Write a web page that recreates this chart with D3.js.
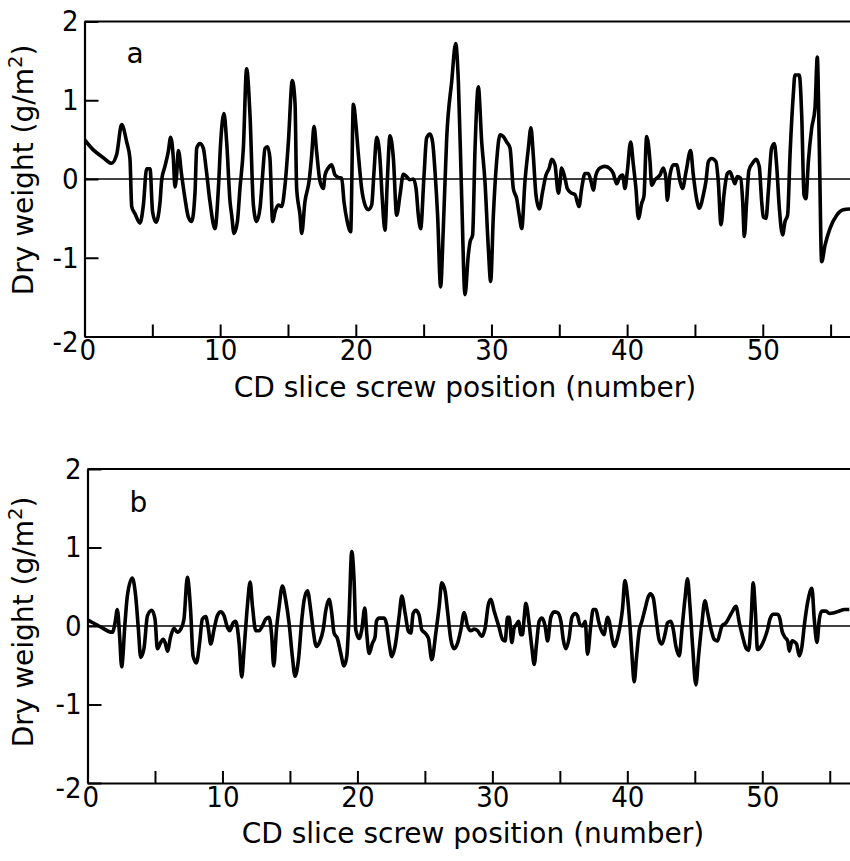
<!DOCTYPE html>
<html>
<head>
<meta charset="utf-8">
<script src="https://cdn.jsdelivr.net/npm/d3@7"></script>
<style>
  body { margin: 0; background: #fff; }
  text { font-family: "DejaVu Sans", sans-serif; fill: #000; }
  .tick text { font-family: "DejaVu Sans Condensed", "DejaVu Sans", sans-serif; font-stretch: condensed; }
</style>
</head>
<body>
<div id="chart"></div>
<script>
(function()
{
    // panel a: CD profile before control
    const positionsA = [0, 0.65, 1.39, 2.00, 2.37, 2.74, 3.11, 3.35, 3.48, 3.72, 4.09, 4.34, 4.58, 4.83, 5.02, 5.27, 5.57, 5.69, 5.93, 6.18,
        6.35, 6.55, 6.67, 6.79, 6.92, 7.16, 7.41, 7.65, 7.90, 8.15, 8.27, 8.51, 8.76, 8.96, 9.25, 9.62, 9.87, 10.04, 10.28, 10.48,
        10.73, 10.85, 11.02, 11.27, 11.46, 11.71, 11.95, 12.20, 12.45, 12.69, 12.94, 13.13, 13.31, 13.50, 13.67, 13.87, 14.04, 14.29, 14.53, 14.78,
        15.03, 15.32, 15.52, 15.64, 15.89, 16.01, 16.25, 16.57, 16.75, 16.92, 17.11, 17.36, 17.61, 17.73, 17.97, 18.22, 18.47, 18.71, 18.96, 19.13,
        19.37, 19.62, 19.82, 20.01, 20.19, 20.43, 20.68, 20.92, 21.17, 21.34, 21.54, 21.78, 21.95, 22.15, 22.32, 22.52, 22.77, 23.01, 23.26, 23.50,
        23.75, 23.99, 24.24, 24.44, 24.61, 24.78, 25.03, 25.22, 25.47, 25.66, 25.84, 26.03, 26.25, 26.45, 26.70, 27.07, 27.36, 27.56, 27.80, 28.05,
        28.29, 28.42, 28.61, 28.79, 29.03, 29.28, 29.52, 29.77, 29.94, 30.14, 30.38, 30.63, 30.87, 31.12, 31.37, 31.61, 31.86, 32.05, 32.23, 32.47,
        32.72, 32.91, 33.08, 33.28, 33.53, 33.77, 34.02, 34.26, 34.44, 34.68, 34.93, 35.05, 35.17, 35.42, 35.59, 35.91, 36.16, 36.45, 36.65, 36.89,
        37.14, 37.34, 37.51, 37.70, 38.00, 38.37, 38.74, 38.98, 39.23, 39.47, 39.67, 39.84, 40.01, 40.26, 40.46, 40.65, 40.83, 41.07, 41.24, 41.44,
        41.69, 41.81, 42.05, 42.42, 42.67, 42.86, 42.96, 43.16, 43.41, 43.65, 43.90, 44.09, 44.34, 44.68, 44.88, 45.12, 45.32, 45.62, 45.81, 45.99,
        46.23, 46.55, 46.72, 46.92, 47.14, 47.39, 47.58, 47.78, 47.95, 48.12, 48.37, 48.52, 48.64, 48.81, 48.98, 49.25, 49.50, 49.74, 49.92, 50.04,
        50.24, 50.41, 50.65, 50.85, 51.02, 51.22, 51.46, 51.64, 51.83, 52.01, 52.25, 52.37, 52.69, 52.87, 53.04, 53.18, 53.36, 53.60, 53.85, 54.02,
        54.17, 54.34, 54.59, 54.95, 55.45, 55.94, 56.43];
    const valuesA = [0.50, 0.37, 0.27, 0.20, 0.31, 0.69, 0.47, 0.26, -0.35, -0.44, -0.56, -0.33, 0.13, 0.13, -0.42, -0.55, -0.29, -0.01, 0.16, 0.35,
        0.53, 0.26, -0.10, 0.05, 0.36, 0.05, -0.25, -0.48, -0.54, -0.16, 0.39, 0.45, 0.39, 0.14, -0.29, -0.63, -0.12, 0.47, 0.83, 0.47,
        -0.29, -0.46, -0.69, -0.54, -0.12, 0.39, 1.40, 0.81, -0.33, -0.54, -0.37, 0.05, 0.39, 0.41, 0.26, -0.54, -0.42, -0.33, -0.35, -0.08,
        0.47, 1.25, 0.96, -0.12, -0.46, -0.69, -0.29, -0.01, 0.31, 0.67, 0.35, -0.03, -0.12, 0.05, 0.14, 0.18, 0.05, 0.02, 0.01, -0.29,
        -0.54, -0.67, 0.95, 0.69, 0.31, -0.12, -0.33, -0.39, -0.33, 0.09, 0.53, 0.26, -0.25, -0.65, -0.03, 0.55, 0.26, -0.46, -0.20, 0.06,
        0.03, -0.01, 0.00, -0.12, -0.46, -0.63, 0.05, 0.52, 0.57, 0.47, 0.09, -0.46, -1.37, -0.63, 0.52, 1.24, 1.72, 1.24, -0.20, -1.47,
        -0.97, -0.80, -0.71, 0.39, 1.17, 0.47, -0.03, -0.88, -1.30, -0.46, 0.22, 0.56, 0.54, 0.47, 0.39, -0.12, -0.25, -0.46, -0.63, -0.03,
        0.39, 0.65, 0.31, -0.20, -0.38, -0.16, 0.05, 0.14, 0.25, 0.18, -0.18, -0.06, 0.14, 0.01, -0.12, -0.18, -0.20, -0.35, -0.12, 0.07,
        0.07, -0.03, -0.14, 0.05, 0.14, 0.16, 0.13, 0.07, -0.06, 0.03, 0.05, -0.12, 0.09, 0.47, 0.18, -0.12, -0.50, -0.31, -0.22, 0.54,
        0.22, -0.08, -0.01, 0.05, 0.14, 0.01, -0.27, 0.05, 0.18, 0.18, -0.03, -0.12, 0.09, 0.36, 0.05, -0.25, -0.37, -0.20, -0.03, 0.22,
        0.26, 0.22, -0.03, -0.58, -0.20, 0.07, 0.09, 0.01, -0.06, 0.03, 0.01, -0.29, -0.73, -0.29, 0.11, 0.20, 0.25, 0.16, -0.29, -0.48,
        -0.50, -0.16, 0.39, 0.45, 0.18, -0.37, -0.71, -0.54, -0.46, 0.31, 1.07, 1.32, 1.32, 0.81, -0.20, -0.25, 0.22, 0.64, 0.90, 1.55,
        0.39, -1.05, -0.84, -0.63, -0.46, -0.39, -0.38];

    // panel b: CD profile under control
    const positionsB = [0, 0.85, 1.84, 2.04, 2.21, 2.38, 2.53, 2.78, 2.95, 3.32, 3.57, 3.77, 3.94, 4.19, 4.44, 4.76, 5.00, 5.18, 5.42, 5.60,
        5.75, 5.92, 6.17, 6.41, 6.66, 6.91, 7.15, 7.40, 7.65, 7.82, 8.07, 8.31, 8.51, 8.76, 8.96, 9.13, 9.38, 9.62, 9.87, 10.12,
        10.37, 10.54, 10.79, 10.98, 11.23, 11.43, 11.60, 11.85, 12.05, 12.22, 12.47, 12.71, 12.96, 13.21, 13.45, 13.65, 13.80, 14.00, 14.20, 14.44,
        14.69, 14.94, 15.18, 15.38, 15.63, 15.88, 16.05, 16.30, 16.54, 16.72, 16.96, 17.21, 17.46, 17.66, 17.90, 18.10, 18.27, 18.52, 18.77, 19.01,
        19.21, 19.38, 19.58, 19.76, 19.88, 20.13, 20.32, 20.55, 20.69, 20.87, 21.11, 21.31, 21.41, 21.61, 21.98, 22.15, 22.35, 22.55, 22.79, 23.09,
        23.29, 23.54, 23.78, 23.96, 24.13, 24.33, 24.57, 24.77, 25.02, 25.27, 25.51, 25.81, 26.06, 26.25, 26.50, 26.67, 26.92, 27.17, 27.42, 27.66,
        27.91, 28.16, 28.40, 28.65, 28.90, 29.22, 29.47, 29.71, 29.89, 30.13, 30.50, 30.75, 30.95, 31.12, 31.25, 31.44, 31.62, 31.79, 31.94, 32.11,
        32.23, 32.36, 32.48, 32.73, 32.93, 33.10, 33.27, 33.47, 33.67, 33.91, 34.09, 34.33, 34.58, 34.83, 35.08, 35.25, 35.45, 35.69, 35.89, 36.14,
        36.31, 36.48, 36.68, 36.88, 37.05, 37.30, 37.47, 37.67, 37.87, 38.04, 38.29, 38.41, 38.53, 38.66, 38.86, 39.03, 39.28, 39.52, 39.65, 39.82,
        40.02, 40.19, 40.34, 40.51, 40.68, 40.88, 41.08, 41.33, 41.53, 41.70, 41.92, 42.12, 42.36, 42.56, 42.81, 42.98, 43.23, 43.40, 43.60, 43.85,
        44.05, 44.27, 44.46, 44.64, 44.84, 45.08, 45.28, 45.53, 45.75, 45.95, 46.20, 46.44, 46.69, 46.86, 47.01, 47.31, 47.55, 47.80, 48.05, 48.30,
        48.54, 48.79, 48.99, 49.16, 49.33, 49.48, 49.65, 49.90, 50.15, 50.40, 50.57, 50.82, 51.14, 51.31, 51.46, 51.63, 51.88, 52.00, 52.20, 52.37,
        52.54, 52.74, 52.94, 53.11, 53.36, 53.68, 53.85, 54.05, 54.23, 54.42, 54.72, 54.97, 55.34, 55.71, 56.08, 56.45];
    const valuesB = [0.08, 0.00, -0.08, 0.04, 0.21, -0.13, -0.52, 0.04, 0.38, 0.61, 0.38, -0.04, -0.40, -0.28, 0.13, 0.20, 0.09, -0.29, -0.21, -0.17,
        -0.21, -0.32, -0.13, -0.03, -0.08, -0.04, 0.09, 0.62, 0.17, -0.38, -0.47, -0.21, 0.09, 0.12, -0.04, -0.23, -0.04, 0.13, 0.18, 0.13,
        -0.02, -0.06, 0.04, 0.06, -0.21, -0.65, -0.30, 0.26, 0.56, 0.26, -0.06, -0.06, 0.00, 0.09, 0.11, -0.13, -0.51, -0.05, 0.25, 0.51,
        0.33, 0.03, -0.39, -0.64, -0.43, 0.08, 0.33, 0.45, 0.20, -0.05, -0.26, -0.20, -0.05, 0.20, 0.34, 0.16, -0.09, -0.16, -0.35, -0.51,
        -0.39, 0.12, 0.95, 0.55, -0.05, -0.16, -0.05, 0.23, -0.09, -0.35, -0.22, -0.14, 0.06, 0.10, 0.10, 0.03, -0.22, -0.39, -0.26, 0.12,
        0.38, 0.16, -0.07, -0.09, 0.16, 0.20, 0.14, -0.05, -0.09, -0.16, -0.43, -0.09, 0.25, 0.55, 0.44, 0.20, -0.17, -0.29, -0.22, -0.05,
        0.17, 0.00, -0.06, -0.04, -0.06, -0.13, -0.02, 0.28, 0.34, 0.19, -0.02, -0.17, -0.19, 0.11, 0.11, -0.21, -0.02, 0.02, 0.06, -0.11,
        -0.11, 0.11, 0.29, 0.02, -0.28, -0.49, -0.23, 0.06, 0.10, 0.00, -0.19, 0.11, 0.18, 0.17, 0.06, -0.17, -0.29, -0.15, 0.11, 0.16,
        0.13, 0.02, 0.00, 0.06, -0.36, 0.02, 0.21, 0.21, 0.06, -0.04, -0.11, 0.02, 0.11, 0.06, -0.15, -0.26, -0.15, 0.06, 0.23, 0.58,
        0.36, 0.02, -0.36, -0.71, -0.40, -0.06, 0.06, 0.23, 0.36, 0.41, 0.36, 0.11, -0.18, -0.23, -0.09, 0.04, 0.06, -0.04, -0.26, -0.38,
        -0.04, 0.34, 0.60, 0.26, -0.26, -0.75, -0.38, 0.04, 0.32, 0.17, -0.04, -0.17, -0.19, -0.09, 0.00, 0.04, 0.11, 0.19, 0.25, 0.04,
        -0.13, -0.28, -0.31, 0.04, 0.55, 0.21, -0.30, -0.26, -0.17, -0.04, 0.09, 0.15, 0.15, 0.09, -0.06, -0.13, -0.19, -0.32, -0.19, -0.20,
        -0.23, -0.38, -0.26, 0.00, 0.30, 0.48, 0.09, -0.21, 0.09, 0.19, 0.19, 0.16, 0.17, 0.19, 0.21, 0.21];

    const xTicks = [0, 5, 10, 15, 20, 25, 30, 35, 40, 45, 50, 55];
    const xTickLabels = [0, 10, 20, 30, 40, 50];
    const yTicks = [-2, -1, 0, 1, 2];
    const X_TITLE = "CD slice screw position (number)";

    const WIDTH = 850;
    const HEIGHT = 861;
    const FONT = 28;      // titles
    const TICK_FONT = 29; // tick labels

    var svg = d3.select("#chart").append("svg")
        .attr("width", WIDTH)
        .attr("height", HEIGHT);

    // top panel sits a little left of the bottom one in the scan
    var panels = [
        {id: "a", xs: positionsA, ys: valuesA, left: 84.5, xMax: 56.43, top: 21.5, bottom: 336.5, titleX: 465, yTitleY: 170},
        {id: "b", xs: positionsB, ys: valuesB, left: 87.5, xMax: 56.5, top: 469, bottom: 783, titleX: 473, yTitleY: 622}
    ];

    panels.forEach(drawPanel);

    function drawPanel(p) {
        var x = d3.scaleLinear().domain([0, p.xMax]).range([p.left, WIDTH]);
        var y = d3.scaleLinear().domain([-2, 2]).range([p.bottom, p.top]);
        var g = svg.append("g").attr("class", "panel-" + p.id);

        g.append("clipPath").attr("id", "clip-" + p.id)
            .append("rect")
            .attr("x", p.left).attr("y", p.top - 4)
            .attr("width", WIDTH - p.left).attr("height", p.bottom - p.top + 8);

        // zero line
        g.append("line")
            .attr("x1", x(0)).attr("x2", WIDTH)
            .attr("y1", y(0)).attr("y2", y(0))
            .attr("stroke", "#000").attr("stroke-width", 1.3);

        // top frame line
        g.append("line")
            .attr("x1", x(0)).attr("x2", WIDTH)
            .attr("y1", y(2)).attr("y2", y(2))
            .attr("stroke", "#000").attr("stroke-width", 2.2);

        var yAxis = d3.axisLeft(y)
            .tickValues(yTicks)
            .tickSizeInner(-14)
            .tickSizeOuter(0)
            .tickPadding(6)
            .tickFormat(function(d) { return String(d); });
        var ya = g.append("g")
            .attr("transform", "translate(" + x(0) + ",0)")
            .call(yAxis);

        var xAxis = d3.axisBottom(x)
            .tickValues(xTicks)
            .tickSizeInner(-12)
            .tickSizeOuter(0)
            .tickPadding(3)
            .tickFormat(function(d) { return xTickLabels.indexOf(d) >= 0 ? d : ""; });
        var xa = g.append("g")
            .attr("transform", "translate(0," + y(-2) + ")")
            .call(xAxis);

        [ya, xa].forEach(function(a) {
            a.attr("font-family", null).attr("font-size", null);
            a.select(".domain").attr("stroke-width", 2.2);
            a.selectAll(".tick line").attr("stroke-width", 2);
            a.selectAll("text").attr("font-size", TICK_FONT).attr("fill", "#000");
        });
        // "-2" sits a bit low, "0" of x axis a bit right, as in the figure
        ya.selectAll(".tick text").filter(function(d) { return d === -2; }).attr("dy", "0.5em");
        xa.selectAll(".tick text").filter(function(d) { return d === 0; }).attr("dx", "0.1em");

        var line = d3.line()
            .x(function(d) { return x(d[0]); })
            .y(function(d) { return y(d[1]); })
            .curve(d3.curveMonotoneX);

        g.append("path")
            .datum(d3.zip(p.xs, p.ys))
            .attr("clip-path", "url(#clip-" + p.id + ")")
            .attr("fill", "none")
            .attr("stroke", "#000")
            .attr("stroke-width", 3.6)
            .attr("stroke-linejoin", "round")
            .attr("d", line);

        // panel letter
        g.append("text")
            .attr("x", x(0) + 42).attr("y", p.id === "a" ? y(2) + 41 : y(2) + 43)
            .attr("font-size", FONT)
            .text(p.id);

        // axis titles
        g.append("text")
            .attr("x", p.titleX).attr("y", y(-2) + 60)
            .attr("text-anchor", "middle")
            .attr("font-size", FONT)
            .text(X_TITLE);

        var yt = g.append("text")
            .attr("transform", "translate(33," + p.yTitleY + ") rotate(-90)")
            .attr("text-anchor", "middle")
            .attr("font-size", FONT);
        yt.append("tspan").text("Dry weight (g/m");
        yt.append("tspan").attr("font-size", FONT * 0.7).attr("dy", "-0.55em").text("2");
        yt.append("tspan").attr("dy", "0.4em").text(")");
    }
})();
</script>
</body>
</html>
